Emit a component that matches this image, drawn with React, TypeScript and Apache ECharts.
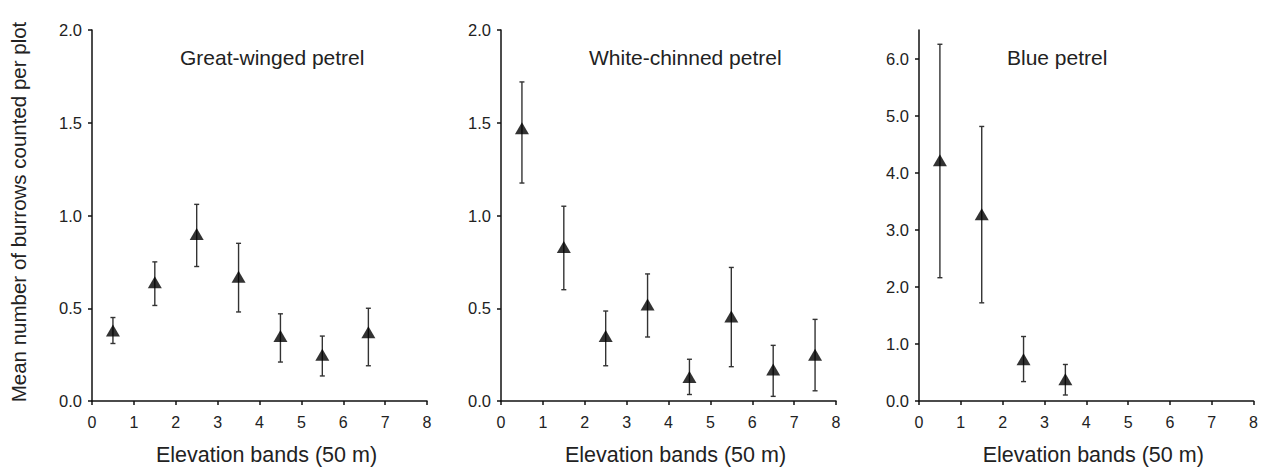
import React, { useEffect, useRef } from "react";
import * as echarts from "echarts";

const panelTitles = ["Great-winged petrel", "White-chinned petrel", "Blue petrel"];

const gwX = [0.5, 1.5, 2.5, 3.5, 4.5, 5.5, 6.6];
const gwMean = [0.38, 0.64, 0.9, 0.67, 0.35, 0.25, 0.37];
const gwUpper = [0.45, 0.75, 1.06, 0.85, 0.47, 0.35, 0.5];
const gwLower = [0.31, 0.515, 0.725, 0.48, 0.21, 0.135, 0.19];

const wcX = [0.5, 1.5, 2.5, 3.5, 4.5, 5.5, 6.5, 7.5];
const wcMean = [1.47, 0.83, 0.35, 0.52, 0.13, 0.455, 0.17, 0.25];
const wcUpper = [1.72, 1.05, 0.485, 0.685, 0.225, 0.72, 0.3, 0.44];
const wcLower = [1.175, 0.6, 0.19, 0.345, 0.035, 0.185, 0.025, 0.055];

const bpX = [0.5, 1.5, 2.5, 3.5];
const bpMean = [4.22, 3.27, 0.73, 0.38];
const bpUpper = [6.25, 4.81, 1.13, 0.64];
const bpLower = [2.16, 1.72, 0.34, 0.105];

const yTicks12 = [0, 0.5, 1, 1.5, 2];
const yTicks3 = [0, 1, 2, 3, 4, 5, 6];
const xTicks = [0, 1, 2, 3, 4, 5, 6, 7, 8];

const FONT = "Liberation Sans, Arial, sans-serif";
const TXT = "#222";

export default function App() {
  const ref = useRef<HTMLDivElement>(null);
  useEffect(() => {
    if (!ref.current) return;
    const chart = echarts.init(ref.current, undefined, { renderer: "svg" });
    const panels = [
      { x: gwX, m: gwMean, u: gwUpper, l: gwLower },
      { x: wcX, m: wcMean, u: wcUpper, l: wcLower },
      { x: bpX, m: bpMean, u: bpUpper, l: bpLower },
    ];
    const grids = [
      { left: 92, top: 30, width: 335, height: 373 },
      { left: 501, top: 30, width: 335, height: 373 },
      { left: 919, top: 30, width: 336, height: 373 },
    ];
    const axisLine = { show: true, lineStyle: { color: "#111", width: 1.5 } };
    const axisTick = (vals: number[]) => ({
      show: true,
      inside: false,
      length: 4,
      lineStyle: { color: "#111", width: 1.5 },
      customValues: vals,
    });
    const xAxes = grids.map((_, i) => ({
      type: "value",
      gridIndex: i,
      min: 0,
      max: 8,
      interval: 1,
      axisLine,
      axisTick: axisTick(xTicks),
      splitLine: { show: false },
      axisLabel: {
        customValues: xTicks,
        color: TXT,
        fontSize: 16,
        fontFamily: FONT,
        margin: 13,
      },
      name: "Elevation bands (50 m)",
      nameLocation: "middle",
      nameGap: 43,
      nameTextStyle: { color: TXT, fontSize: 21.5, fontFamily: FONT, padding: [0, 0, 0, 14] },
    }));
    const yAxes = grids.map((_, i) => {
      const ticks = i === 2 ? yTicks3 : yTicks12;
      return {
        type: "value",
        gridIndex: i,
        min: 0,
        max: i === 2 ? 6.5 : 2,
        interval: i === 2 ? 1 : 0.5,
        axisLine,
        axisTick: axisTick(ticks),
        splitLine: { show: false },
        axisLabel: {
          customValues: ticks,
          color: TXT,
          fontSize: 16.5,
          fontFamily: FONT,
          margin: 10,
          formatter: (v: number) => v.toFixed(1),
        },
      };
    });
    const series: any[] = [];
    panels.forEach((p, i) => {
      series.push({
        type: "custom",
        xAxisIndex: i,
        yAxisIndex: i,
        data: p.x.map((x, k) => [x, p.l[k], p.u[k]]),
        encode: { x: 0, y: [1, 2] },
        renderItem: (params: any, api: any) => {
          const x = api.value(0);
          const lo = api.coord([x, api.value(1)]);
          const hi = api.coord([x, api.value(2)]);
          const cap = 2.5;
          const style = { stroke: "#333", lineWidth: 1.4 };
          return {
            type: "group",
            children: [
              { type: "line", shape: { x1: lo[0], y1: lo[1], x2: hi[0], y2: hi[1] }, style },
              { type: "line", shape: { x1: hi[0] - cap, y1: hi[1], x2: hi[0] + cap, y2: hi[1] }, style },
              { type: "line", shape: { x1: lo[0] - cap, y1: lo[1], x2: lo[0] + cap, y2: lo[1] }, style },
            ],
          };
        },
        z: 2,
      });
      series.push({
        type: "scatter",
        xAxisIndex: i,
        yAxisIndex: i,
        data: p.x.map((x, k) => [x, p.m[k]]),
        symbol: "triangle",
        symbolSize: [14, 12],
        itemStyle: { color: "#000" },
        z: 3,
      });
    });
    chart.setOption({
      animation: false,
      backgroundColor: "#fff",
      title: panelTitles.map((t, i) => ({
        text: t,
        left: grids[i].left + 83,
        top: 42,
        textStyle: { color: TXT, fontSize: 21, fontWeight: "normal", fontFamily: FONT },
      })),
      grid: grids,
      xAxis: xAxes,
      yAxis: yAxes,
      series,
      graphic: [
        {
          type: "text",
          x: 18,
          y: 212,
          rotation: Math.PI / 2,
          style: {
            text: "Mean number of burrows counted per plot",
            fill: TXT,
            fontSize: 20.5,
            fontFamily: FONT,
            align: "center",
            verticalAlign: "middle",
          },
        },
      ],
    });
    return () => chart.dispose();
  }, []);
  return (
    <div
      ref={ref}
      style={{ position: "absolute", left: 0, top: 0, width: 1261, height: 471 }}
    />
  );
}
